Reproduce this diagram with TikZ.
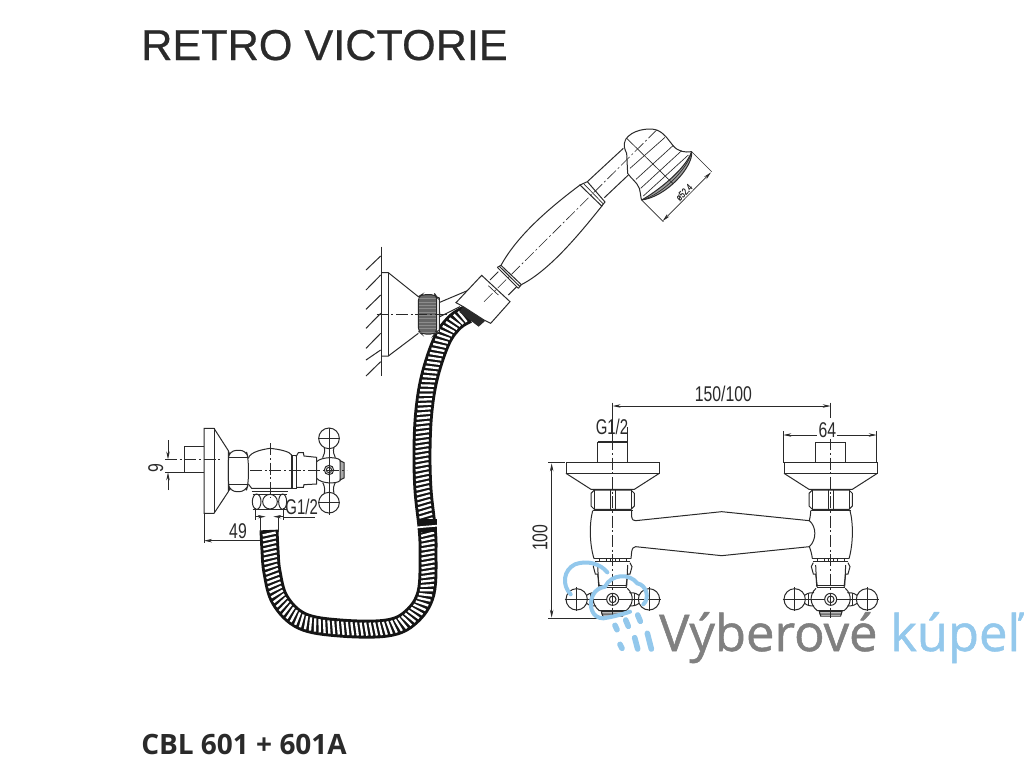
\documentclass[tikz,border=0pt]{standalone}
\usepackage{fontspec}
\usepackage{graphicx}
\setmainfont{Liberation Sans}
\newfontfamily\titlefont[FakeBold=0.5]{Liberation Sans}
\newfontfamily\logofont[FakeBold=1]{Open Sans}
\newfontfamily\codefont{Open Sans}
\usetikzlibrary{arrows.meta,decorations.markings}
\definecolor{ink}{HTML}{2A2A2A}
\definecolor{hoseink}{HTML}{151515}
\definecolor{logoblue}{HTML}{93C8EC}
\definecolor{logogray}{HTML}{808080}
\tikzset{
  ln/.style={draw=ink,line width=.75pt},
  thin line/.style={draw=ink,line width=.5pt},
  ctr/.style={draw=ink,line width=.45pt,dash pattern=on 9pt off 2pt on 1.5pt off 2pt},
  dimtip/.style={-{Stealth[length=6pt,width=2.6pt]}},
  dimtips/.style={{Stealth[length=6pt,width=2.6pt]}-{Stealth[length=6pt,width=2.6pt]}},
  dimtxt/.style={inner sep=0pt,text=ink,font=\fontsize{16pt}{17pt}\selectfont},
  drop/.style={draw=logoblue,line width=4.2pt,line cap=round},
  tapscope/.style={x=.25pt,y=-.25pt},
}
% one tap assembly, in zoom coordinates relative to its axis
\newcommand{\tapassembly}{%
  \draw[ln] (-45,278) -- (-45,216) -- (45,216) -- (45,278);
  \draw[ln] (-140,278) -- (140,278) -- (140,310) -- (-140,310) -- cycle;
  \draw[ln] (-140,310) -- (-65,358) -- (65,358) -- (140,310);
  \draw[ln] (-65,370) -- (-55,360) -- (55,360) -- (65,370) -- (65,408) -- (55,418) -- (-55,418) -- (-65,408) -- cycle;
  \draw[thin line] (-8,360) -- (-8,418) (8,360) -- (8,418) (-55,360)--(-55,418) (55,360)--(55,418);
  \draw[ln] (-60,422) -- (60,422);
  \draw[ln,line width=1.2pt] (-55,566) -- (55,566);
  \draw[ln,line width=1.2pt] (-52,574) -- (52,574);
  \draw[thin line] (-40,566)--(-40,574) (-20,566)--(-20,574) (-8,566)--(-8,574) (8,566)--(8,574) (20,566)--(20,574) (40,566)--(40,574);
  \draw[ln] (-52,578) -- (-58,590) -- (-52,612) -- (-45,612) -- (-40,650);
  \draw[ln] (52,578) -- (58,590) -- (52,612) -- (45,612) -- (40,650);
  \draw[ln] (-45,585) -- (-42,650) (45,585) -- (42,650);
  \draw[ln] (-42,645) -- (42,645) (-42,652) -- (42,652);
  \draw[ln] (-44,655) .. controls (-66,675) and (-62,705) .. (-40,722) -- (40,722) .. controls (62,705) and (66,675) .. (44,655);
  \draw[ln] (0,688) circle (18) (0,688) circle (10);
  \draw[ln] (-34,722) -- (-30,738) -- (30,738) -- (34,722);
  \draw[ln,fill=ink!30] (-34,724) -- (34,724) -- (32,732) -- (-32,732) -- cycle;
  % cross handle
  \draw[ln] (-108,688) circle (32) (109,688) circle (32);
  \draw[ln] (-78,676) .. controls (-68,668) and (-60,668) .. (-50,668);
  \draw[ln] (-78,700) .. controls (-68,708) and (-60,708) .. (-50,708);
  \draw[ln] (79,676) .. controls (68,668) and (60,668) .. (50,668);
  \draw[ln] (79,700) .. controls (68,708) and (60,708) .. (50,708);
  \draw[thin line] (-66,670) -- (-66,706) (66,670) -- (66,706);
  \draw[thin line] (-144,688) -- (-18,688) (18,688) -- (144,688);
  \draw[thin line] (-108,652) -- (-108,724) (109,652) -- (109,724);
  \draw[ctr] (0,205) -- (0,745);
}
\begin{document}
\begin{tikzpicture}[x=.75pt,y=-.75pt]
\useasboundingbox (0,0) rectangle (1024,768);
\fill[white] (0,0) rectangle (1024,768);

% ---------- titles
\node[anchor=base west,inner sep=0pt,text=ink,font=\titlefont\fontsize{32.4pt}{34pt}\selectfont] (title) at (141,60) {RETRO VICTORIE};
\node[anchor=base west,inner sep=0pt,text=ink,font=\codefont\bfseries\fontsize{21pt}{22pt}\selectfont] (code) at (141,754) {CBL 601 + 601A};

% ---------- hose
\newcommand{\hosepath}{plot[smooth,tension=.6] coordinates {(269,530) (270,550) (272,572) (280,600) (302,621) (340,628) (387,628) (411,617) (426,593) (428,550) (427,527) (423,490) (422,450) (424,410) (430,375) (442,340) (455,322) (468,314)}}
\draw[hoseink,line width=14.2pt] \hosepath;
\path[decorate,decoration={markings,mark=between positions 3pt and -3pt step 3.5pt with {\draw[white,line width=1.75pt] (.85pt,-4.9pt) -- (-.85pt,4.9pt);}}] \hosepath;
\fill[hoseink] (418,519) rectangle (437,532);
\draw[white,line width=1.3pt] (416,527.5) -- (439,525.5);

% ---------- hand shower & wall bracket (zoom-1 coordinates)
\begin{scope}[shift={(360,120)},tapscope]
  % wall
  \draw[ln] (64,380) -- (64,768);
  \foreach \a/\b in {408/450,465/510,525/568,580/625,640/685,690/720,725/768}{\draw[ln] (62,\a) -- (18,\b);}
  % bracket
  \draw[ln] (64,458) -- (85,458) -- (175,530) (175,640) -- (85,708) -- (64,708);
  \draw[thin line] (85,458) -- (85,708);
  % arms
  \draw[ln] (232,550) -- (322,512) (240,590) -- (300,560);
  \draw[ln] (232,560) .. controls (245,585) and (240,590) .. (232,605);
  \draw[ln,fill=white] (228,530) -- (238,534) -- (238,636) -- (228,640) -- cycle;
  % knurled nut
  \draw[ln,fill=ink!72,rounded corners=3pt] (175,530) -- (185,524) -- (226,524) -- (230,530) -- (230,636) -- (224,642) -- (185,642) -- (175,634) -- cycle;
  \foreach \y in {536,546,...,636}{\draw[white,opacity=.25,line width=.5pt] (178,\y) -- (228,\y);}
  \draw[ctr] (50,583) -- (270,583);
  % holder
  \fill[ink] (310,558) -- (376,602) -- (356,620) -- (298,576) -- cycle;
  \draw[ln,fill=white] (288,548) -- (365,466) -- (450,545) -- (392,610) -- (372,600) -- (310,560) -- cycle;
  % tube between holder and collar
  \draw[ln] (390,480) -- (415,455) (445,525) -- (470,500);
  \draw[thin line] (385,497) -- (415,525);
  % lower collar
  \draw[ln] (412,442) -- (475,505) (417,438) -- (480,500) (423,436) -- (484,494);
  \draw[ln] (412,442) -- (423,436) (475,505) -- (484,494);
  % handle
  \draw[ln] (423,436) .. controls (470,350) and (560,270) .. (660,195);
  \draw[ln] (484,494) .. controls (570,450) and (660,340) .. (728,255);
  % upper collar
  \draw[ln] (660,195) -- (725,258) -- (735,246) -- (682,185) -- cycle;
  \draw[thin line] (670,190) -- (730,252);
  % neck
  \draw[ln] (682,185) -- (790,85) (733,233) -- (805,165);
  \draw[ctr] (372,545) -- (890,30);
\end{scope}

% ---------- shower head (zoom-5 coordinates)
\begin{scope}[shift={(610,120)},tapscope]
  \draw[ln] (47,58) .. controls (65,30) and (115,22) .. (140,30) .. controls (165,40) and (175,60) .. (190,78) .. controls (205,95) and (225,98) .. (245,95);
  \draw[ln] (47,58) .. controls (38,75) and (45,90) .. (50,100) -- (53,160) .. controls (65,178) and (80,185) .. (88,205) .. controls (93,225) and (92,235) .. (95,240);
  \fill[ink!45] (245,95) .. controls (250,140) and (170,230) .. (95,240) .. controls (140,215) and (225,150) .. (245,95);
  \draw[ln] (245,95) .. controls (250,140) and (170,230) .. (95,240);
  \draw[ln] (245,95) .. controls (225,150) and (140,215) .. (95,240);
  \draw[thin line] (245,95) .. controls (235,145) and (155,225) .. (95,240);
  \draw[thin line] (50,55) -- (190,192);
  \draw[thin line] (60,145) -- (165,52) (78,178) -- (190,76) (92,205) -- (215,92) (100,228) -- (235,105);
  % dimension
  \draw[thin line] (245,95) -- (305,155) (95,240) -- (160,305);
  \draw[thin line,dimtips] (158,303) -- (303,157);
  \node[inner sep=0pt,rotate=45,fill=white,text=ink,font=\titlefont\fontsize{6.5pt}{7pt}\selectfont] (headdim) at (222,217) {\scalebox{.85}[1.15]{ø52.4}};
\end{scope}

% ---------- wall valve (zoom-2 coordinates)
\begin{scope}[shift={(140,410)},tapscope]
  \draw[ln] (192,108) -- (133,108) -- (133,187) -- (192,187);
  \draw[ln] (192,55) -- (222,55) -- (265,122) -- (265,245) -- (222,310) -- (192,310) -- cycle;
  \draw[thin line] (222,55) -- (222,310);
  % hex nut
  \draw[ln,rounded corners=5pt] (268,122) -- (318,120) -- (325,145) -- (325,222) -- (318,245) -- (270,245) -- (265,222) -- (265,145) -- cycle;
  \draw[ln] (266,143) -- (324,143) (266,222) -- (324,222);
  % body
  \draw[ln] (325,145) .. controls (330,125) and (370,118) .. (390,115) .. controls (420,118) and (450,125) .. (455,135) -- (455,235) -- (335,235) -- (325,222);
  \draw[ln] (335,243) -- (445,243);
  \draw[ln] (452,135) -- (468,135) -- (468,235) -- (452,235);
  \draw[thin line] (458,135) -- (458,235);
  % cap
  \draw[ln] (468,140) -- (475,128) -- (490,128) -- (492,138) -- (530,142) -- (530,222) -- (492,224) -- (490,232) -- (470,232);
  % handle
  \draw[ln] (567,85) circle (31) (567,278) circle (31);
  \draw[ln] (553,112) .. controls (556,125) and (552,135) .. (548,143);
  \draw[ln] (582,112) .. controls (578,125) and (582,135) .. (586,143);
  \draw[ln] (553,250) .. controls (556,235) and (552,225) .. (548,218);
  \draw[ln] (582,250) .. controls (578,235) and (582,225) .. (586,218);
  \draw[ln] (530,155) .. controls (545,140) and (590,140) .. (600,150) .. controls (606,170) and (606,195) .. (600,212) .. controls (590,222) and (545,222) .. (530,205);
  \draw[ln,fill=ink!40] (600,152) -- (612,158) -- (612,204) -- (600,210) -- cycle;
  \draw[ln] (567,180) circle (14) (567,180) circle (8);
  \draw[thin line] (567,55) -- (567,315) (535,85) -- (598,85) (535,278) -- (598,278);
  \draw[ctr] (330,180) -- (620,180);
  \draw[ctr] (390,100) -- (390,262);
  \draw[ctr] (75,148) -- (240,148);
  % fitting
  \draw[ln] (350,275) ellipse (13 and 23) (390,275) ellipse (22 and 22) (428,275) ellipse (12 and 23);
  \draw[thin line] (338,252) -- (440,252) (338,298) -- (440,298);
  % dimensions
  \draw[thin line] (75,187) -- (133,187);
  \draw[thin line,dimtip] (84,90) -- (84,148);
  \draw[thin line,dimtip] (84,240) -- (84,187);
  \node[dimtxt,rotate=90] (nine) at (47,175) {\scalebox{.74}[1]{9}};
  \draw[thin line] (345,295) -- (345,330) (430,295) -- (430,330) (430,322) -- (525,322);
  \draw[thin line,dimtip] (345,320) -- (377,320);
  \draw[thin line,dimtip] (430,320) -- (400,320);
  \node[dimtxt,anchor=base] (gleft) at (485,314) {\scalebox{.7}[1]{G1/2}};
  \draw[thin line] (360,325) -- (360,365) (415,325) -- (415,365);
  \draw[thin line] (192,310) -- (192,398);
  \draw[thin line,dimtip] (360,392) -- (192,392);
  \node[dimtxt,anchor=base] (fortynine) at (294,386) {\scalebox{.74}[1]{49}};
\end{scope}

% ---------- double tap (zoom-3 coordinates)
\begin{scope}[shift={(520,370)},tapscope]
  \begin{scope}[shift={(278,0)}]\tapassembly\end{scope}
  \begin{scope}[shift={(932,0)}]\tapassembly\end{scope}
  % bodies and bridge
  \draw[ln] (218,422) .. controls (208,460) and (208,520) .. (222,566);
  \draw[ln] (335,422) -- (335,440) .. controls (337,450) and (340,452) .. (347,452) -- (605,425) -- (868,452);
  \draw[ln] (333,566) -- (335,545) .. controls (337,535) and (340,530) .. (347,530) -- (605,557) -- (868,530);
  \draw[ln] (872,422) .. controls (872,440) and (868,448) .. (868,452) .. controls (890,470) and (890,510) .. (868,530) .. controls (872,540) and (876,555) .. (877,566);
  \draw[ln] (990,422) .. controls (1000,460) and (1000,520) .. (987,566);
  % dimensions
  \draw[thin line] (278,98) -- (278,216) (932,98) -- (932,145);
  \draw[thin line,dimtips] (278,108) -- (932,108);
  \node[dimtxt,anchor=base] (hundred) at (610,93) {\scalebox{.74}[1]{150/100}};
  \draw[thin line] (790,184) -- (790,278) (1070,184) -- (1070,278);
  \draw[thin line,dimtips] (790,195) -- (1070,195);
  \node[dimtxt,anchor=base,fill=white,inner sep=1pt] (sixtyfour) at (922,203) {\scalebox{.74}[1]{64}};
  \node[dimtxt,anchor=base] (gright) at (276,193) {\scalebox{.7}[1]{G1/2}};
  \draw[thin line] (233,215) -- (322,215) -- (322,170);
  \draw[thin line] (85,278) -- (135,278) (85,745) -- (250,745);
  \draw[thin line,dimtips] (95,280) -- (95,743);
  \node[dimtxt,rotate=90] (tall) at (60,503) {\scalebox{.74}[1]{100}};
\end{scope}

% ---------- logo (zoom-9 coordinates)
\begin{scope}[shift={(550,555)},tapscope]
  \draw[logoblue,line width=3pt,line cap=round] (62,118) .. controls (35,90) and (40,45) .. (75,28) .. controls (110,15) and (150,25) .. (172,52);
  \draw[logoblue,line width=3pt,line cap=round] (240,170) .. controls (210,180) and (190,185) .. (160,190) .. controls (125,190) and (115,150) .. (128,122) .. controls (135,105) and (150,98) .. (165,95) .. controls (185,55) and (240,55) .. (262,85) .. controls (290,90) and (300,130) .. (280,148);
  \draw[drop] (195,211) -- (201,224);
  \draw[drop] (227,195) -- (235,214);
  \draw[drop] (263,180) -- (271,199);
  \draw[drop] (210,268) -- (216,280);
  \draw[drop] (254,248) -- (263,282);
  \draw[drop] (292,235) -- (304,282);
\end{scope}
\node[anchor=base west,inner sep=0pt,text=logogray,font=\logofont\fontsize{38pt}{40pt}\selectfont] (logoa) at (659,651) {Výberové};
\node[anchor=base west,inner sep=0pt,text=logoblue,font=\logofont\fontsize{38pt}{40pt}\selectfont] (logob) at (890,651) {kúpeľ};
\end{tikzpicture}
\end{document}
